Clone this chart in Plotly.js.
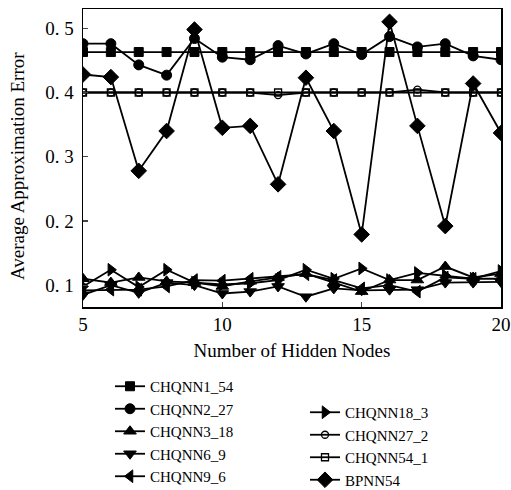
<!DOCTYPE html>
<html>
<head>
<meta charset="utf-8">
<script src="https://cdn.plot.ly/plotly-3.0.1.min.js"></script>
<style>html,body{margin:0;padding:0;background:#fff;}#chart{width:511px;height:490px;}</style>
</head>
<body>
<div id="chart"></div>
<script>
const hiddenNodes = [5,6,7,8,9,10,11,12,13,14,15,16,17,18,19,20];
const chqnn1_54  = [0.463,0.463,0.463,0.463,0.463,0.463,0.463,0.463,0.463,0.463,0.463,0.463,0.463,0.463,0.463,0.463];
const chqnn2_27  = [0.476,0.476,0.443,0.427,0.484,0.455,0.451,0.473,0.460,0.476,0.459,0.487,0.471,0.476,0.457,0.451];
const chqnn3_18  = [0.110,0.104,0.112,0.106,0.104,0.098,0.106,0.112,0.118,0.104,0.090,0.108,0.108,0.129,0.112,0.118];
const chqnn6_9   = [0.085,0.100,0.088,0.104,0.100,0.087,0.090,0.098,0.082,0.095,0.092,0.093,0.093,0.104,0.104,0.105];
const chqnn9_6   = [0.092,0.093,0.093,0.098,0.108,0.107,0.110,0.113,0.117,0.108,0.095,0.100,0.090,0.112,0.110,0.110];
const chqnn18_3  = [0.098,0.124,0.097,0.124,0.104,0.101,0.103,0.108,0.124,0.110,0.126,0.108,0.119,0.115,0.110,0.122];
const chqnn27_2  = [0.400,0.400,0.400,0.400,0.400,0.400,0.400,0.396,0.400,0.400,0.400,0.400,0.4045,0.400,0.400,0.400];
const chqnn54_1  = [0.400,0.400,0.400,0.400,0.400,0.400,0.400,0.400,0.400,0.400,0.400,0.400,0.400,0.400,0.400,0.400];
const bpnn54     = [0.428,0.424,0.278,0.340,0.498,0.345,0.348,0.257,0.423,0.340,0.179,0.510,0.348,0.192,0.414,0.337];
const yTickVals = [0.1,0.2,0.3,0.4,0.5];
const yTickText = ['0. 1','0. 2','0. 3','0. 4','0. 5'];
const xTickVals = [5,10,15,20];
const xTitle = 'Number of Hidden Nodes';
const yTitle = 'Average Approximation Error';

const FONT = 'Liberation Serif, Times New Roman, serif';
function tr(name, y, symbol, size, legend, extra) {
  return Object.assign({
    x: hiddenNodes, y: y, name: name, type: 'scatter', mode: 'lines+markers',
    line: {color: '#000', width: 1.8},
    marker: {symbol: symbol, size: size, color: '#000', line: {color: '#000', width: 1}},
    legend: legend
  }, extra || {});
}
const data = [
  tr('CHQNN1_54', chqnn1_54, 'square', 9, 'legend'),
  tr('CHQNN2_27', chqnn2_27, 'circle', 10, 'legend'),
  tr('CHQNN3_18', chqnn3_18, 'triangle-up', 11, 'legend'),
  tr('CHQNN6_9', chqnn6_9, 'triangle-down', 11, 'legend'),
  tr('CHQNN9_6', chqnn9_6, 'triangle-left', 11, 'legend'),
  tr('CHQNN18_3', chqnn18_3, 'triangle-right', 11, 'legend2'),
  tr('CHQNN27_2', chqnn27_2, 'circle-open', 7, 'legend2', {marker:{symbol:'circle-open',size:7,color:'#000',line:{color:'#000',width:1.3}}}),
  tr('CHQNN54_1', chqnn54_1, 'square-open', 7, 'legend2', {marker:{symbol:'square-open',size:7,color:'#000',line:{color:'#000',width:1.3}}}),
  tr('BPNN54', bpnn54, 'diamond', 12, 'legend2')
];
const legendCommon = {
  xref: 'container', yref: 'container', xanchor: 'left', yanchor: 'top',
  font: {family: FONT, size: 15, color: '#000'}, bgcolor: 'rgba(0,0,0,0)',
  borderwidth: 0, itemwidth: 30, tracegroupgap: 0, itemclick: false
};
const layout = {
  width: 511, height: 490,
  margin: {l: 83, r: 10, t: 9, b: 183, autoexpand: false},
  paper_bgcolor: '#fff', plot_bgcolor: '#fff',
  font: {family: FONT, size: 18, color: '#000'},
  showlegend: true,
  xaxis: {
    range: [5, 20], tickvals: xTickVals, ticks: 'inside', ticklen: 5, tickwidth: 1.2,
    showline: true, linecolor: '#000', linewidth: 1.5, mirror: true, showgrid: false, zeroline: false,
    tickfont: {family: FONT, size: 19, color: '#000'},
    title: {text: xTitle, font: {family: FONT, size: 19, color: '#000'}, standoff: 9}
  },
  yaxis: {
    range: [0.066, 0.53], tickvals: yTickVals, ticktext: yTickText, ticks: 'inside', ticklen: 5, tickwidth: 1.2,
    ticklabelstandoff: 4,
    showline: true, linecolor: '#000', linewidth: 1.5, mirror: true, showgrid: false, zeroline: false,
    tickfont: {family: FONT, size: 19, color: '#000'}
  },
  annotations: [{
    text: yTitle, xref: 'paper', yref: 'paper', x: -0.158, y: 0.473,
    xanchor: 'center', yanchor: 'middle', textangle: -90, showarrow: false,
    font: {family: FONT, size: 19, color: '#000'}
  }],
  legend: Object.assign({}, legendCommon, {x: 110/511, y: 1 - 370/490}),
  legend2: Object.assign({}, legendCommon, {x: 305/511, y: 1 - 396/490})
};
Plotly.newPlot('chart', data, layout, {staticPlot: true, displayModeBar: false});
</script>
</body>
</html>
